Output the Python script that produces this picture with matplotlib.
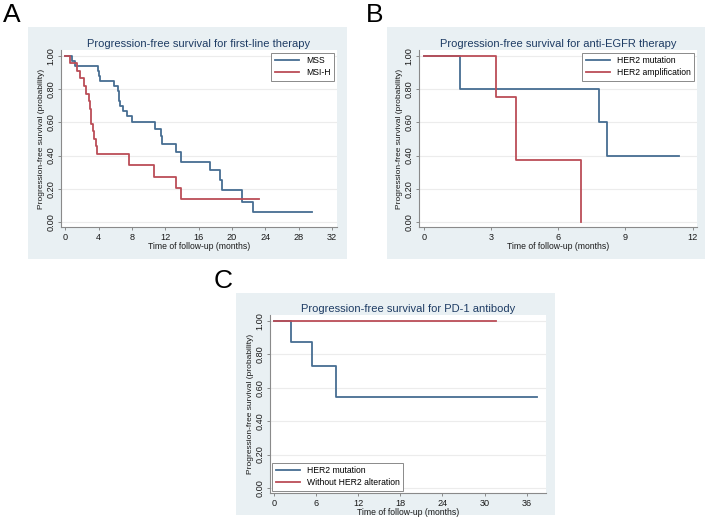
import matplotlib
matplotlib.use("Agg")
import matplotlib.pyplot as plt
from matplotlib.patches import Rectangle

plt.rcParams['font.family'] = ['Liberation Sans', 'DejaVu Sans']

# panel A: first-line therapy
mss_time = [0, 0.8, 1.2, 3.9, 4.1, 4.2, 5.8, 6.3, 6.4, 6.5, 6.6, 6.9, 7.4, 8.0,
            10.8, 11.5, 11.6, 13.3, 13.9, 17.4, 18.6, 18.8, 21.2, 22.5, 29.6]
mss_surv = [1.00, 0.97, 0.94, 0.91, 0.88, 0.85, 0.82, 0.79, 0.76, 0.73, 0.70, 0.67, 0.64, 0.60,
            0.56, 0.52, 0.47, 0.42, 0.36, 0.31, 0.25, 0.19, 0.12, 0.06, 0.06]
msi_time = [0, 0.6, 1.4, 1.8, 2.2, 2.5, 2.8, 2.95, 3.05, 3.15, 3.3, 3.45, 3.65, 3.85,
            7.7, 10.7, 13.3, 13.9, 23.2]
msi_surv = [1.00, 0.955, 0.909, 0.864, 0.818, 0.773, 0.727, 0.682, 0.636, 0.591, 0.545, 0.50, 0.455, 0.409,
            0.341, 0.273, 0.205, 0.136, 0.136]

# panel B: anti-EGFR therapy
mutB_time = [0, 1.6, 7.8, 8.2, 11.4]
mutB_surv = [1.0, 0.8, 0.6, 0.4, 0.4]
amp_time = [0, 3.2, 4.1, 7.0]
amp_surv = [1.0, 0.75, 0.375, 0.0]

# panel C: PD-1 antibody
mutC_time = [0, 2.4, 5.4, 8.9, 37.4]
mutC_surv = [1.0, 0.875, 0.729, 0.547, 0.547]
wo_time = [0, 31.6]
wo_surv = [1.0, 1.0]

yticks = [0, 0.2, 0.4, 0.6, 0.8, 1.0]

W, H = 709, 527
BG = '#e9f0f3'
BLUE = '#466d92'
RED = '#bb4d57'
TITLE = '#1e3c64'
AXC = '#8a8a8a'

fig = plt.figure(figsize=(W / 100, H / 100), dpi=100)


def box(x0, y0, x1, y1):
    fig.patches.append(Rectangle((x0 / W, 1 - y1 / H), (x1 - x0) / W, (y1 - y0) / H,
                                 transform=fig.transFigure, facecolor=BG,
                                 edgecolor='none', zorder=-5))


def panel(x0, y0, x1, y1):
    ax = fig.add_axes([x0 / W, 1 - y1 / H, (x1 - x0) / W, (y1 - y0) / H])
    ax.set_facecolor('white')
    for s in ['top', 'right']:
        ax.spines[s].set_visible(False)
    for s in ['left', 'bottom']:
        ax.spines[s].set_color(AXC)
        ax.spines[s].set_linewidth(0.8)
    ax.set_ylim(-0.03, 1.035)
    ax.set_yticks(yticks)
    ax.set_yticklabels(['%.2f' % v for v in yticks], rotation=90, va='center')
    ax.tick_params(axis='both', colors=AXC, labelcolor='#1a1a1a', labelsize=6.6,
                   length=2.5, width=0.7, pad=1.5)
    ax.grid(axis='y', color='#ececec', linewidth=0.8)
    ax.set_axisbelow(True)
    ax.set_ylabel('Progression-free survival (probability)', fontsize=6, labelpad=1, color='#1a1a1a')
    ax.set_xlabel('Time of follow-up (months)', fontsize=6.2, labelpad=0, color='#1a1a1a')
    return ax


def legend(ax, **kw):
    lg = ax.legend(fontsize=6.2, frameon=True, fancybox=False, framealpha=1,
                   edgecolor='#8a8a8a', handlelength=2.8, labelspacing=0.35,
                   borderpad=0.45, handletextpad=0.8, **kw)
    lg.get_frame().set_linewidth(0.7)
    return lg


# A
box(28, 27, 347, 259)
axA = panel(61, 50, 337, 227)
axA.step(mss_time, mss_surv, where='post', color=BLUE, lw=1.3, label='MSS')
axA.step(msi_time, msi_surv, where='post', color=RED, lw=1.3, label='MSI-H')
axA.set_xlim(-0.5, 32.6)
axA.set_xticks(range(0, 33, 4))
axA.set_title('Progression-free survival for first-line therapy', fontsize=8, color=TITLE, pad=2.5)
legend(axA, loc='upper right', borderaxespad=0.3)

# B
box(387, 27, 705, 259)
axB = panel(419, 50, 697, 227)
axB.step(mutB_time, mutB_surv, where='post', color=BLUE, lw=1.3, label='HER2 mutation')
axB.step(amp_time, amp_surv, where='post', color=RED, lw=1.3, label='HER2 amplification')
axB.set_xlim(-0.22, 12.2)
axB.set_xticks(range(0, 13, 3))
axB.set_title('Progression-free survival for anti-EGFR therapy', fontsize=8, color=TITLE, pad=2.5)
legend(axB, loc='upper right', borderaxespad=0.3)

# C
box(236, 293, 555, 515)
axC = panel(270, 315, 546, 493)
axC.step(mutC_time, mutC_surv, where='post', color=BLUE, lw=1.3, label='HER2 mutation')
axC.step(wo_time, wo_surv, where='post', color=RED, lw=1.3, label='Without HER2 alteration')
axC.set_xlim(-0.53, 38.75)
axC.set_xticks(range(0, 37, 6))
axC.set_title('Progression-free survival for PD-1 antibody', fontsize=8, color=TITLE, pad=2.5)
legend(axC, loc='lower left', borderaxespad=0.2)

fig.text(3 / W, 1 - 22 / H, 'A', fontsize=19, va='baseline')
fig.text(366 / W, 1 - 22 / H, 'B', fontsize=19, va='baseline')
fig.text(214 / W, 1 - 288 / H, 'C', fontsize=19, va='baseline')

fig.savefig('out.png', dpi=100)
